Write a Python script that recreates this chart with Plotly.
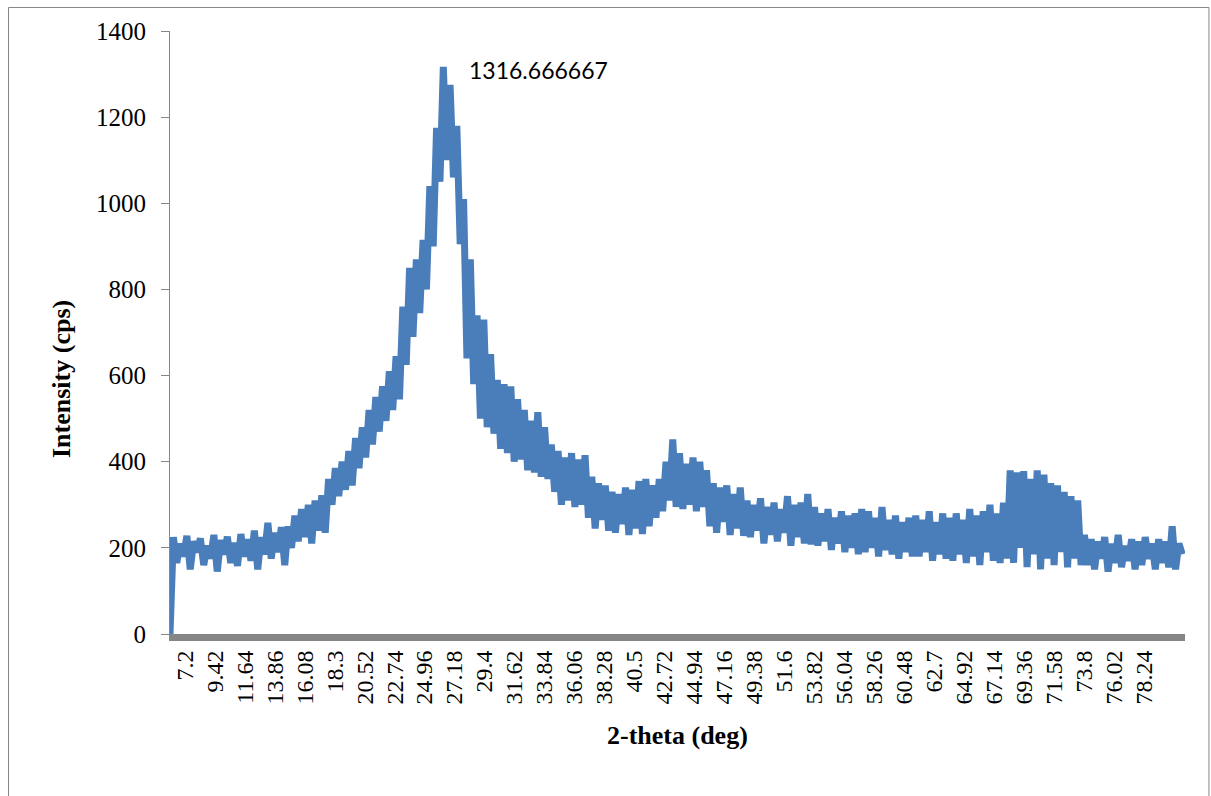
import plotly.graph_objects as go

# ---- data ----
two_theta_start = 7.2      # deg, first category
two_theta_step = 0.25      # deg between the sampled points

intensity = [
    0,
    # 7.45 - 15.7
    225, 165, 210, 180, 228, 150, 215, 190, 222, 160, 205, 175, 230, 145, 218, 185, 226,
    165, 212, 158, 232, 180, 220, 170, 240, 150, 225, 185, 258, 175, 235, 190, 248, 160,
    # 15.95 - 18.7
    250, 200, 275, 215, 290, 225, 300, 210, 310, 240, 322, 235,
    # 18.95 - 20.7
    360, 300, 385, 320, 400, 335, 425, 345,
    # 20.95 - 22.45
    455, 385, 480, 410, 520, 440, 550,
    # 22.7 - 24.2
    470, 575, 495, 610, 520, 645, 545,
    # 24.45 - 25.2
    760, 625, 850, 690,
    # 25.45 - 26.2
    870, 745, 915, 800,
    # 26.45 - 26.95
    1040, 900, 1175,
    # 27.2 - 27.7
    1050, 1316.666667, 1100,
    # 27.95 - 28.45
    1275, 1060, 1180,
    # 28.7 - 28.95
    905, 1010,
    # 29.2 - 29.7
    640, 870, 580,
    # 29.95 - 30.45
    740, 500, 730,
    # 30.7 - 31.2
    480, 650, 465,
    # 31.45 - 32.7
    590, 430, 580, 420, 575, 400,
    # 32.95 - 33.95
    545, 405, 520, 380, 495,
    # 34.2 - 35.2
    375, 515, 365, 480, 360,
    # 35.45 - 36.45
    440, 330, 425, 300, 410,
    # 36.7 - 37.95
    310, 420, 295, 405, 300, 415,
    # 38.2 - 39.7
    270, 365, 245, 350, 265, 345, 240,
    # 39.95 - 42.45
    330, 235, 325, 255, 340, 230, 335, 245, 355, 232, 360,
    # 42.7 - 43.7
    250, 345, 270, 360, 285,
    # 43.95 - 44.7
    400, 310, 452, 295,
    # 44.95 - 46.95
    420, 290, 395, 300, 410, 285, 400, 295, 380,
    # 47.2 - 49.7
    250, 350, 235, 340, 260, 345, 230, 325, 245, 340, 228,
    # 49.95 - 53.7
    310, 225, 300, 240, 315, 210, 295, 230, 305, 215, 290, 235, 320, 205, 300, 225,
    # 53.95 - 54.7
    305, 210, 325, 208,
    # 54.95 - 58.45
    295, 205, 280, 215, 290, 195, 270, 210, 285, 190, 275, 200, 280, 185, 290,
    # 58.7 - 62.2
    190, 285, 200, 270, 180, 295, 195, 265, 185, 275, 175, 260, 190, 270, 180,
    # 62.45 - 64.95
    275, 180, 265, 190, 285, 170, 260, 185, 280, 175, 270,
    # 65.2 - 69.2
    170, 280, 185, 265, 165, 290, 180, 275, 160, 285, 190, 300, 170, 280, 165, 305, 175,
    # 69.45 - 71.95
    380, 165, 375, 200, 378, 155, 360, 185, 380, 150, 370,
    # 72.2 - 74.7
    175, 350, 160, 345, 190, 330, 155, 320, 175, 310, 160,
    # 74.95 - 82.2
    230, 160, 220, 150, 215, 175, 225, 145, 210, 165, 230, 155, 205, 170, 220, 150, 215,
    160, 225, 175, 210, 150, 220, 165, 215, 155, 250, 150, 210, 185,
]

two_theta = [round(two_theta_start + two_theta_step * i, 2) for i in range(len(intensity))]

tick_labels = [7.2, 9.42, 11.64, 13.86, 16.08, 18.3, 20.52, 22.74, 24.96, 27.18, 29.4,
               31.62, 33.84, 36.06, 38.28, 40.5, 42.72, 44.94, 47.16, 49.38, 51.6, 53.82,
               56.04, 58.26, 60.48, 62.7, 64.92, 67.14, 69.36, 71.58, 73.8, 76.02, 78.24]
label_group_width = 2.22   # each label is centred on its group of categories
y_ticks = [0, 200, 400, 600, 800, 1000, 1200, 1400]

peak_value = max(intensity)
peak_x = two_theta[intensity.index(peak_value)]

# ---- figure ----
fig = go.Figure()
fig.add_trace(go.Scatter(
    x=two_theta, y=intensity, mode="lines",
    line=dict(color="#4A7EBB", width=7),
    showlegend=False, hoverinfo="x+y",
))

serif = "Liberation Serif, Times New Roman, serif"
fig.update_layout(
    width=1211, height=796,
    margin=dict(l=170, r=26, t=31, b=162),
    paper_bgcolor="white", plot_bgcolor="white",
    xaxis=dict(
        range=[two_theta_start, 82.4],
        tickmode="array",
        tickvals=[v + label_group_width / 2 for v in tick_labels],
        ticktext=[f"{v:g}" for v in tick_labels],
        tickangle=-90,
        tickfont=dict(family=serif, size=24, color="black"),
        showline=True, linecolor="#868686", linewidth=7,
        ticks="", showgrid=False, zeroline=False,
    ),
    yaxis=dict(
        range=[0, 1400],
        tickmode="array", tickvals=y_ticks,
        ticks="outside", ticklen=8, tickcolor="#868686", tickwidth=1,
        tickfont=dict(family=serif, size=25, color="black"),
        ticklabelstandoff=10,
        showline=True, linecolor="#868686", linewidth=1,
        showgrid=False, zeroline=False,
    ),
    annotations=[
        dict(x=peak_x, y=peak_value, xref="x", yref="y",
             text=f"{peak_value:.6f}".rstrip("0").rstrip("."),
             showarrow=False, xanchor="left", yanchor="middle",
             xshift=24, yshift=-3,
             font=dict(family="Lato, Open Sans, sans-serif", size=23, color="black")),
        dict(x=0.5, y=-0.169, xref="paper", yref="paper",
             text="<b>2-theta (deg)</b>", showarrow=False,
             xanchor="center", yanchor="middle",
             font=dict(family=serif, size=26, color="black")),
        dict(x=-0.1064, y=0.4229, xref="paper", yref="paper",
             text="<b>Intensity (cps)</b>", showarrow=False, textangle=-90,
             xanchor="center", yanchor="middle",
             font=dict(family=serif, size=26, color="black")),
    ],
    shapes=[
        dict(type="rect", xref="paper", yref="paper",
             x0=-0.1591, x1=1.0236, y0=-0.30, y1=1.039,
             line=dict(color="#868686", width=1), fillcolor="rgba(0,0,0,0)",
             layer="below"),
    ],
)

fig.write_html("out.html")
